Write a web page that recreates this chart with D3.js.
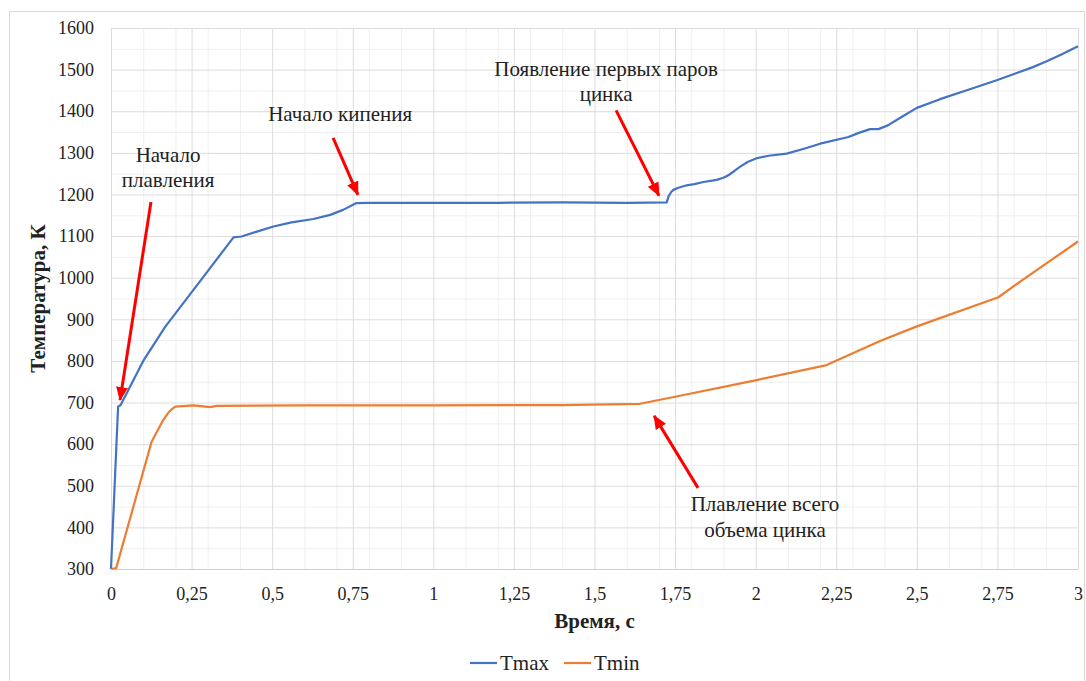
<!DOCTYPE html>
<html>
<head>
<meta charset="utf-8">
<script src="https://cdn.jsdelivr.net/npm/d3@7"></script>
<style>
  body { margin: 0; background: #fff; }
  svg text { font-family: "Liberation Serif", "DejaVu Serif", serif; fill: #222; }
</style>
</head>
<body>
<script>
// Data
let tmaxTime = [0, 0.022, 0.03, 0.1, 0.168, 0.276, 0.38, 0.405, 0.45, 0.504, 0.56, 0.628, 0.68, 0.72, 0.76, 0.8, 1.0, 1.2, 1.4, 1.6, 1.724, 1.73, 1.738, 1.745, 1.76, 1.786, 1.81, 1.838, 1.879, 1.9, 1.915, 1.935, 1.952, 1.975, 2.003, 2.04, 2.096, 2.15, 2.2, 2.288, 2.32, 2.355, 2.381, 2.41, 2.45, 2.5, 2.572, 2.676, 2.75, 2.81, 2.86, 2.903, 2.95, 3.0];
let tmaxTemp = [300, 690, 694, 800, 882, 991, 1097, 1099, 1110, 1123, 1133, 1141, 1151, 1163, 1179, 1180, 1180, 1180, 1181, 1180, 1181, 1196, 1206, 1211, 1216, 1222, 1225, 1230, 1235, 1240, 1246, 1257, 1267, 1278, 1287, 1293, 1298, 1310, 1322, 1338, 1348, 1357, 1357, 1366, 1385, 1408, 1429, 1456, 1475, 1492, 1506, 1520, 1537, 1556];

let tminTime = [0, 0.016, 0.126, 0.162, 0.178, 0.19, 0.2, 0.256, 0.307, 0.328, 0.6, 1.0, 1.4, 1.641, 1.75, 2.003, 2.22, 2.386, 2.5, 2.753, 2.836, 3.0];
let tminTemp = [300, 302, 606, 658, 676, 685, 690, 693, 689, 692, 693, 693, 694, 697, 714, 754, 790, 848, 883, 953, 999, 1087];

let seriesNames = ["Tmax", "Tmin"];
let seriesColors = ["#4472C4", "#ED7D31"];

let xTicks = [0, 0.25, 0.5, 0.75, 1, 1.25, 1.5, 1.75, 2, 2.25, 2.5, 2.75, 3];
let xTickLabels = ["0", "0,25", "0,5", "0,75", "1", "1,25", "1,5", "1,75", "2", "2,25", "2,5", "2,75", "3"];
let yTicks = d3.range(300, 1601, 100);

// annotations: text lines, label anchor (t, K), arrow tail and tip (t, K)
let notes = [
  { lines: ["Начало", "плавления"], at: [0.177, 1279], from: [0.124, 1182], to: [0.028, 706] },
  { lines: ["Начало кипения"], at: [0.711, 1377], from: [0.689, 1336], to: [0.766, 1199] },
  { lines: ["Появление первых паров", "цинка"], at: [1.536, 1485], from: [1.567, 1402], to: [1.700, 1197] },
  { lines: ["Плавление всего", "объема цинка"], at: [2.029, 439], from: [1.821, 495], to: [1.685, 668] }
];

let FONT = "'Liberation Serif', 'DejaVu Serif', serif";
let W = 1086, H = 681;
let margin = { top: 28, right: 8, bottom: 112, left: 111 };
let width = W - margin.left - margin.right;
let height = H - margin.top - margin.bottom;

let svg = d3.select("body")
  .append("svg")
    .attr("width", W)
    .attr("height", H)
    .attr("font-family", FONT);

// chart border
svg.append("rect")
  .attr("x", 9.5).attr("y", 11.5)
  .attr("width", 1075).attr("height", 675)
  .attr("fill", "none")
  .attr("stroke", "#d9d9d9");

let g = svg.append("g")
  .attr("transform", "translate(" + margin.left + "," + margin.top + ")");

let x = d3.scaleLinear().domain([0, 3]).range([0, width]);
let y = d3.scaleLinear().domain([300, 1600]).range([height, 0]);

// minor grid
let minorX = d3.range(1, 30).map(k => k / 10).filter(v => Math.abs(v * 4 - Math.round(v * 4)) > 1e-6);
g.append("g")
  .call(d3.axisBottom(x).tickValues(minorX).tickSize(height).tickFormat(""))
  .call(a => a.select(".domain").remove())
  .call(a => a.selectAll("line").attr("stroke", "#efefef"));
g.append("g")
  .call(d3.axisLeft(y).tickValues(d3.range(350, 1600, 100)).tickSize(-width).tickFormat(""))
  .call(a => a.select(".domain").remove())
  .call(a => a.selectAll("line").attr("stroke", "#efefef"));

// major grid
g.append("g")
  .call(d3.axisBottom(x).tickValues(xTicks).tickSize(height).tickFormat(""))
  .call(a => a.select(".domain").remove())
  .call(a => a.selectAll("line").attr("stroke", "#dcdcdc"));
g.append("g")
  .call(d3.axisLeft(y).tickValues(yTicks).tickSize(-width).tickFormat(""))
  .call(a => a.select(".domain").remove())
  .call(a => a.selectAll("line").attr("stroke", "#dcdcdc"));

// tick labels
g.append("g")
  .attr("transform", "translate(0," + height + ")")
  .call(d3.axisBottom(x).tickValues(xTicks).tickSize(0).tickPadding(18)
    .tickFormat((d, i) => xTickLabels[i]))
  .call(a => a.attr("font-family", FONT).attr("font-size", 18))
  .call(a => a.select(".domain").attr("stroke", "#d0d0d0"))
  .call(a => a.selectAll("text").attr("fill", "#222"));
g.append("g")
  .call(d3.axisLeft(y).tickValues(yTicks).tickSize(0).tickPadding(17).tickFormat(d3.format("d")))
  .call(a => a.attr("font-family", FONT).attr("font-size", 18))
  .call(a => a.select(".domain").remove())
  .call(a => a.selectAll("text").attr("fill", "#222"));

// series
let series = [
  d3.zip(tmaxTime, tmaxTemp),
  d3.zip(tminTime, tminTemp)
];
let line = d3.line()
  .x(d => x(d[0]))
  .y(d => y(d[1]));

series.forEach((s, i) => {
  g.append("path")
    .datum(s)
    .attr("fill", "none")
    .attr("stroke", seriesColors[i])
    .attr("stroke-width", 2.2)
    .attr("stroke-linejoin", "round")
    .attr("d", line);
});

// arrows
svg.append("defs").append("marker")
  .attr("id", "head")
  .attr("markerUnits", "userSpaceOnUse")
  .attr("viewBox", "0 0 14 12")
  .attr("refX", 13).attr("refY", 6)
  .attr("markerWidth", 14).attr("markerHeight", 12)
  .attr("orient", "auto")
  .append("path")
    .attr("d", "M0,0 L14,6 L0,12 Z")
    .attr("fill", "#ff0000");

notes.forEach(n => {
  g.append("line")
    .attr("x1", x(n.from[0])).attr("y1", y(n.from[1]))
    .attr("x2", x(n.to[0])).attr("y2", y(n.to[1]))
    .attr("stroke", "#ff0000")
    .attr("stroke-width", 3)
    .attr("marker-end", "url(#head)");

  let t = g.append("text")
    .attr("text-anchor", "middle")
    .style("font-size", "21px");
  n.lines.forEach((s, i) => {
    t.append("tspan")
      .attr("x", x(n.at[0]))
      .attr("y", y(n.at[1]) + i * 25.5)
      .text(s);
  });
});

// axis titles
svg.append("text")
  .attr("x", margin.left + width / 2)
  .attr("y", 628)
  .attr("text-anchor", "middle")
  .style("font-size", "21px")
  .style("font-weight", "bold")
  .text("Время, с");

svg.append("text")
  .attr("transform", "rotate(-90)")
  .attr("x", -(margin.top + height / 2))
  .attr("y", 45)
  .attr("text-anchor", "middle")
  .style("font-size", "21px")
  .style("font-weight", "bold")
  .text("Температура, К");

// legend
let legend = svg.append("g").attr("transform", "translate(470,663)");
let lx = 0;
seriesNames.forEach((name, i) => {
  let item = legend.append("g").attr("transform", "translate(" + lx + ",0)");
  item.append("line")
    .attr("x1", 0).attr("x2", 27)
    .attr("stroke", seriesColors[i])
    .attr("stroke-width", 2.2);
  let txt = item.append("text")
    .attr("x", 30).attr("y", 7)
    .style("font-size", "21px")
    .text(name);
  lx += 30 + txt.node().getComputedTextLength() + 15;
});
</script>
</body>
</html>
